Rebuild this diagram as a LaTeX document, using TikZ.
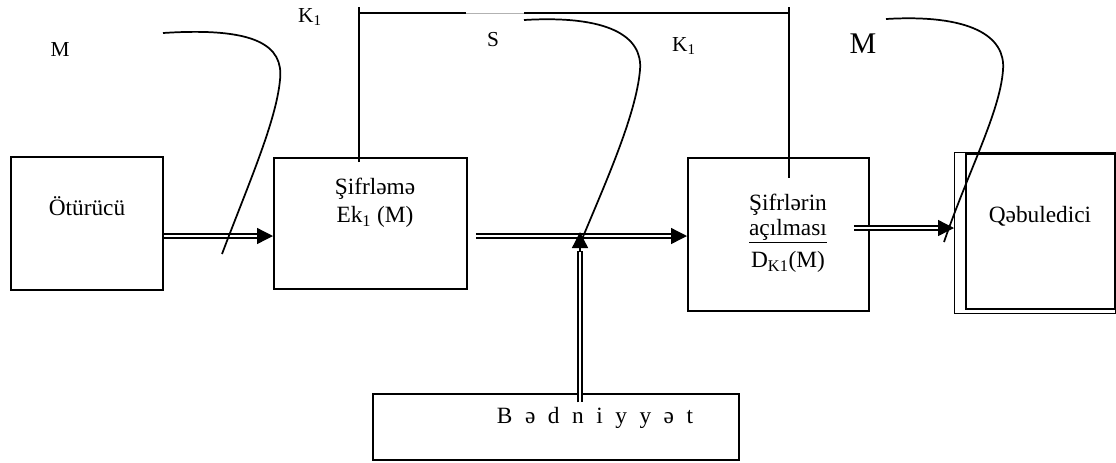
\documentclass[tikz,border=0pt]{standalone}
\usepackage{fontspec}
\setmainfont{Liberation Serif}
\usetikzlibrary{arrows.meta,calc}
\begin{document}
\begin{tikzpicture}[x=0.75pt,y=-0.75pt,
  box/.style={draw, line width=1.4pt, inner sep=0pt, anchor=north west},
  sz/.style 2 args={minimum width=#1*0.75pt, minimum height=#2*0.75pt},
  txt/.style={inner sep=0pt, font=\fontsize{17.5}{21}\selectfont},
  lbl/.style={inner sep=0pt, font=\fontsize{16}{19}\selectfont},
  bigl/.style={inner sep=0pt, font=\fontsize{22.5}{26}\selectfont},
  wire/.style={line width=1.4pt},
  curve/.style={line width=1.3pt},
  dbl/.style={double, double distance=2pt, line width=0.9pt},
  tip/.style={-{Triangle[length=12pt,width=12pt]}, line width=1pt}
]
\useasboundingbox (0,0) rectangle (1116,462);

% blocks
\node[box, sz={152}{133}] (tx)  at (10,156) {};
\node[box, sz={193}{131}] (enc) at (273,157) {};
\node[box, sz={181}{153}] (dec) at (687,157) {};
\node[draw, line width=0.8pt, inner sep=0pt, anchor=north west, sz={161}{161}] (rcvo) at (954,152) {};
\node[box, sz={149}{155}] (rcv) at (965,153) {};
\node[box, sz={366}{66}] (adv) at (372,393) {};

% block texts
\node[txt] (txtx) at (87,206) {Ötürücü};
\node[txt] (txenc1) at (375,189) {Şifrləmə};
\node[txt] (txenc2) at (375,217) {Ek\textsubscript{1} (M)};
\node[txt] (txdec1) at (788,205) {Şifrlərin};
\node[txt] (txdec2) at (788,231) {\underline{açılması}};
\node[txt] (txdec3) at (788,262) {D\textsubscript{K1}(M)};
\node[txt] (txrcv) at (1040,216) {Qəbuledici};
\node[txt] (txadv) at (595,418) {\spaceskip=9.4pt B ə d n i y y ə t};

% free labels
\node[lbl] (lk1a) at (310,17) {K\textsubscript{1}};
\node[lbl] (lm1) at (60,50) {M};
\node[lbl] (ls) at (493,40) {S};
\node[lbl] (lk1b) at (684,46) {K\textsubscript{1}};
\node[bigl] (lm2) at (863,44) {M};

% key distribution line
\coordinate (ka0) at (359,7);
\coordinate (ka1) at (359,13);
\coordinate (ka2) at (359,162);
\coordinate (g0) at (466,13);
\coordinate (g1) at (524,13);
\coordinate (kb0) at (789,7);
\coordinate (kb1) at (789,13);
\coordinate (kb2) at (789,178);
\draw[wire] (ka2) -- (ka0);
\draw[wire] (ka1) -- (g0);
\draw[gray!60, line width=0.6pt] (g0) -- (g1);
\draw[wire] (g1) -- (kb1);
\draw[wire] (kb0) -- (kb2);

% message path
\coordinate (r1) at (0,236);
\coordinate (r3) at (0,228);
\coordinate (c1) at (580,236);
\draw[dbl] (tx.east |- r1) -- ([xshift=-11pt]enc.west |- r1);
\draw[tip] ([xshift=-12pt]enc.west |- r1) -- (enc.west |- r1);
\draw[dbl] ([xshift=6pt]enc.east |- r1) -- ([xshift=-11pt]dec.west |- r1);
\draw[tip] ([xshift=-12pt]dec.west |- r1) -- (dec.west |- r1);
\draw[dbl] ([yshift=-7pt]adv.north -| c1) -- ([yshift=-11pt]c1);
\draw[tip] ([yshift=-12pt]c1) -- ([yshift=3pt]c1);
\draw[dbl] ([xshift=-12pt]dec.east |- r3) -- ([xshift=-11pt]rcvo.west |- r3);
\draw[tip] ([xshift=-12pt]rcvo.west |- r3) -- (rcvo.west |- r3);

% intercepted / observed messages
\coordinate (m1s) at (163,33);
\coordinate (m1t) at (280,80);
\coordinate (m1e) at (222,254);
\draw[curve] (m1s) .. controls (255,27) and (284,45) .. (m1t)
  .. controls (276,122) and (248,185) .. (m1e);
\coordinate (s2s) at (524,20);
\coordinate (s2t) at (640,70);
\coordinate (s2e) at (580,244);
\draw[curve] (s2s) .. controls (608,15) and (643,36) .. (s2t)
  .. controls (636,116) and (604,186) .. (s2e);
\coordinate (m3s) at (886,19);
\coordinate (m3t) at (1003,70);
\coordinate (m3e) at (944,242);
\draw[curve] (m3s) .. controls (970,14) and (1006,36) .. (m3t)
  .. controls (1000,112) and (968,172) .. (m3e);
\end{tikzpicture}
\end{document}
